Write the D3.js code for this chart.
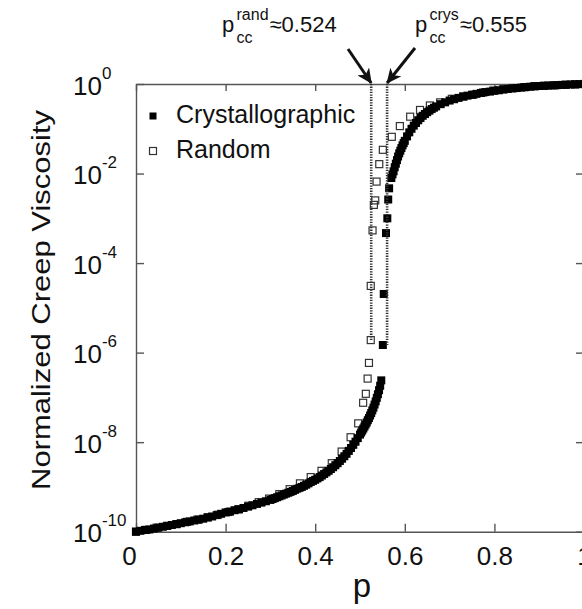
<!DOCTYPE html>
<meta charset="utf-8">
<style>
  body { margin: 0; background: #fff; }
  text { font-family: "Liberation Sans", Arial, Helvetica, sans-serif; fill: #111; }
</style>

<!-- Load d3.js -->
<script src="https://d3js.org/d3.v7.min.js"></script>

<!-- Create a div where the graph will take place -->
<div id="my_dataviz"></div>

<script>

// ---- data (p, log10 of normalized creep viscosity) ----
// Crystallographic: lower branch, isolated points on the jump, upper branch
var crysP = [0,0.01,0.02,0.03,0.04,0.05,0.06,0.07,0.08,0.09,0.10,0.11,0.12,0.13,0.14,0.15,0.16,0.17,0.18,0.19,
  0.20,0.21,0.22,0.23,0.24,0.25,0.26,0.27,0.28,0.29,
  0.300,0.305,0.310,0.315,0.320,0.325,0.330,0.335,0.340,0.345,0.350,0.355,0.360,0.365,0.370,0.375,0.380,0.385,0.390,0.395,
  0.400,0.405,0.410,0.415,0.420,0.425,0.430,0.435,0.440,0.445,0.450,0.455,0.460,0.465,0.470,0.475,0.480,0.485,0.490,0.495,
  0.500,0.5025,0.505,0.5075,0.510,0.5125,0.515,0.5175,0.520,0.5225,0.525,0.5275,0.530,0.5325,0.535,0.5375,0.540,0.5425,0.545,0.5475,
  0.551,0.553,0.558,0.561,0.563,0.565,
  0.570,0.5725,0.575,0.5775,0.580,0.5825,0.585,0.5875,0.590,0.5925,0.595,0.5975,0.600,0.605,0.610,0.615,0.620,0.625,0.630,0.635,
  0.640,0.645,0.650,0.655,0.660,0.665,0.670,0.68,0.69,
  0.70,0.71,0.72,0.73,0.74,0.75,0.76,0.77,0.78,0.79,0.80,0.81,0.82,0.83,0.84,0.85,0.86,0.87,0.88,0.89,
  0.90,0.91,0.92,0.93,0.94,0.95,0.96,0.97,0.98,0.99,1.00];
var crysExp = [-10.0,-9.98,-9.96,-9.95,-9.93,-9.91,-9.89,-9.87,-9.85,-9.83,-9.81,-9.79,-9.77,-9.75,-9.73,-9.71,-9.68,-9.66,-9.63,-9.60,
  -9.57,-9.55,-9.52,-9.50,-9.47,-9.44,-9.41,-9.38,-9.35,-9.32,
  -9.29,-9.27,-9.25,-9.23,-9.21,-9.19,-9.17,-9.15,-9.13,-9.11,-9.09,-9.065,-9.04,-9.02,-9.00,-8.975,-8.95,-8.92,-8.89,-8.865,
  -8.84,-8.81,-8.78,-8.745,-8.71,-8.675,-8.64,-8.60,-8.56,-8.515,-8.47,-8.42,-8.37,-8.315,-8.26,-8.195,-8.13,-8.06,-7.99,-7.91,
  -7.83,-7.785,-7.74,-7.695,-7.65,-7.605,-7.56,-7.51,-7.46,-7.405,-7.35,-7.29,-7.23,-7.16,-7.09,-7.01,-6.93,-6.84,-6.74,-6.62,
  -5.83,-4.69,-3.33,-3.00,-2.58,-2.33,
  -2.10,-2.02,-1.95,-1.86,-1.78,-1.70,-1.62,-1.55,-1.49,-1.43,-1.37,-1.32,-1.27,-1.17,-1.08,-1.00,-0.93,-0.87,-0.81,-0.76,
  -0.71,-0.67,-0.63,-0.595,-0.56,-0.53,-0.50,-0.45,-0.41,
  -0.37,-0.34,-0.31,-0.28,-0.26,-0.24,-0.22,-0.20,-0.18,-0.17,-0.15,-0.14,-0.12,-0.11,-0.10,-0.09,-0.08,-0.07,-0.06,-0.05,
  -0.045,-0.04,-0.035,-0.03,-0.025,-0.02,-0.015,-0.01,-0.007,-0.003,0.0];

// Random
var randP = [0,0.023,0.046,0.069,0.091,0.114,0.137,0.160,0.183,0.206,0.228,0.251,0.274,0.297,0.320,0.343,
  0.366,0.390,0.414,0.437,0.459,0.479,0.496,0.507,0.513,0.517,0.520,
  0.524,0.524,0.528,0.531,0.534,0.537,0.543,
  0.551,0.571,0.589,0.612,0.634,0.656,0.679,0.705,0.731,0.753,0.775,0.797,0.820,0.843,0.866,0.889,0.912,0.935,0.958,0.980,1.0];
var randExp = [-10.0,-9.96,-9.91,-9.87,-9.83,-9.78,-9.73,-9.68,-9.62,-9.56,-9.50,-9.42,-9.34,-9.26,-9.16,-9.05,
  -8.92,-8.78,-8.64,-8.47,-8.21,-7.89,-7.58,-7.12,-6.92,-6.58,-6.23,
  -5.72,-4.51,-3.27,-2.70,-2.60,-2.18,-1.79,
  -1.47,-1.18,-0.94,-0.73,-0.58,-0.48,-0.41,-0.33,-0.28,-0.24,-0.19,-0.15,-0.12,-0.09,-0.07,-0.05,-0.04,-0.03,-0.02,-0.01,0.0];

// thresholds: annotated value, and where the dotted guide is drawn
var thrName  = ["rand", "crys"];
var thrLabel = ["0.524", "0.555"];
var thrLineP = [0.525, 0.5605];

var xTicks = [0, 0.2, 0.4, 0.6, 0.8, 1];
var yTicks = [1e0, 1e-2, 1e-4, 1e-6, 1e-8, 1e-10];
var yTickExp = ["0", "-2", "-4", "-6", "-8", "-10"];

// set the dimensions and margins of the graph
var margin = {top: 84, left: 136},
  width = 448,
  height = 447.7;

var svg = d3.select("#my_dataviz")
  .append("svg")
    .attr("width", 582)
    .attr("height", 609)
  .append("g")
    .attr("transform", "translate(" + margin.left + "," + margin.top + ")");

// scales
var x = d3.scaleLinear().domain([0, 1]).range([0, width]);
var y = d3.scaleLog().domain([1e-10, 1]).range([height, 0]);

var axisColor = "#555";

// bottom axis, ticks pointing inward
var xAxis = svg.append("g")
  .attr("transform", "translate(0," + height + ")")
  .call(d3.axisBottom(x).tickValues(xTicks).tickSize(-8).tickSizeOuter(0).tickPadding(15)
    .tickFormat(function(d){ return d === 0 ? "0" : d === 1 ? "1" : d3.format(".1f")(d); }));
xAxis.selectAll("text")
  .style("font-size", "26px")
  .attr("dx", function(d){ return d === 0 ? "-7px" : null; })
  .attr("fill", "#111");

// top axis
var topAxis = svg.append("g")
  .call(d3.axisTop(x).tickValues(xTicks).tickSize(-7).tickSizeOuter(0).tickFormat(""));

// left axis
var yAxis = svg.append("g")
  .call(d3.axisLeft(y).tickValues(yTicks).tickSize(-8).tickSizeOuter(0).tickFormat(""));

// right axis
var rightAxis = svg.append("g")
  .attr("transform", "translate(" + width + ",0)")
  .call(d3.axisRight(y).tickValues(yTicks).tickSize(-8).tickSizeOuter(0).tickFormat(""));

[xAxis, topAxis, yAxis, rightAxis].forEach(function(a){
  a.selectAll("path, line").attr("stroke", axisColor).attr("stroke-width", 1.4);
});

// y tick labels as 10^n
var yLab = svg.append("g").selectAll("text")
  .data(yTicks)
  .enter()
  .append("text")
    .attr("x", 73 - margin.left)
    .attr("y", function(d){ return y(d) + 10.5; })
    .style("font-size", "26px");
yLab.append("tspan").text("10");
yLab.append("tspan")
  .attr("dy", "-16")
  .style("font-size", "17px")
  .text(function(d, i){ return yTickExp[i]; });

// axis titles
svg.append("text")
  .attr("text-anchor", "middle")
  .attr("x", width / 2 + 2)
  .attr("y", height + 65)
  .style("font-size", "33px")
  .text("p");

svg.append("text")
  .attr("text-anchor", "middle")
  .attr("transform", "translate(" + (50 - margin.left) + "," + (300 - margin.top) + ") rotate(-90)")
  .attr("textLength", 380)
  .attr("lengthAdjust", "spacingAndGlyphs")
  .style("font-size", "26px")
  .text("Normalized Creep Viscosity");

// clip so marks stay in the frame
svg.append("clipPath").attr("id", "clip")
  .append("rect").attr("x", -5).attr("y", -5).attr("width", width + 10).attr("height", height + 10);

var plot = svg.append("g").attr("clip-path", "url(#clip)");

var randData = randP.map(function(p, i){ return {p: p, v: Math.pow(10, randExp[i])}; });
var crysData = crysP.map(function(p, i){ return {p: p, v: Math.pow(10, crysExp[i])}; });

var sq = 7, sqFill = 8;

// Random: open squares
plot.selectAll(".rand")
  .data(randData)
  .enter()
  .append("rect")
    .attr("class", "rand")
    .attr("x", function(d){ return x(d.p) - sq / 2; })
    .attr("y", function(d){ return y(d.v) - sq / 2; })
    .attr("width", sq)
    .attr("height", sq)
    .attr("fill", "none")
    .attr("stroke", "#333")
    .attr("stroke-width", 1.2);

// Crystallographic: filled squares
plot.selectAll(".crys")
  .data(crysData)
  .enter()
  .append("rect")
    .attr("class", "crys")
    .attr("x", function(d){ return x(d.p) - sqFill / 2; })
    .attr("y", function(d){ return y(d.v) - sqFill / 2; })
    .attr("width", sqFill)
    .attr("height", sqFill)
    .attr("fill", "#000");

// dotted guides through the jump, down to the lowest isolated point
var guideBottom = [Math.pow(10, -5.72), Math.pow(10, -5.83)];
svg.selectAll(".guide")
  .data(thrLineP)
  .enter()
  .append("line")
    .attr("x1", function(d){ return x(d); })
    .attr("x2", function(d){ return x(d); })
    .attr("y1", 0)
    .attr("y2", function(d, i){ return y(guideBottom[i]); })
    .attr("stroke", "#333")
    .attr("stroke-width", 2.6)
    .attr("stroke-dasharray", "1.3,1.3");

// arrows
svg.append("defs").append("marker")
  .attr("id", "head")
  .attr("markerUnits", "userSpaceOnUse")
  .attr("viewBox", "0 -7 15 14")
  .attr("refX", 14)
  .attr("refY", 0)
  .attr("markerWidth", 15)
  .attr("markerHeight", 14)
  .attr("orient", "auto")
  .append("path")
    .attr("d", "M0,-7L15,0L0,7L4,0Z")
    .attr("fill", "#111");

var arrowStart = [[348 - margin.left, 49 - margin.top], [415 - margin.left, 48 - margin.top]];
svg.selectAll(".arrow")
  .data(thrLineP)
  .enter()
  .append("line")
    .attr("x1", function(d, i){ return arrowStart[i][0]; })
    .attr("y1", function(d, i){ return arrowStart[i][1]; })
    .attr("x2", function(d){ return x(d); })
    .attr("y2", -1)
    .attr("stroke", "#111")
    .attr("stroke-width", 3)
    .attr("marker-end", "url(#head)");

// threshold labels  p_cc^name ≈ value
var labX = [222 - margin.left, 415 - margin.left];
thrName.forEach(function(n, i){
  var g = svg.append("g").attr("transform", "translate(" + labX[i] + "," + (32 - margin.top) + ")");
  g.append("text").attr("x", 0).attr("y", 0).style("font-size", "22px").text("p");
  g.append("text").attr("x", 14.5).attr("y", 11).style("font-size", "16px").text("cc");
  var sup = g.append("text").attr("x", 14.5).attr("y", -12).style("font-size", "16px").text(n);
  var w = Math.max(sup.node().getComputedTextLength(), 16);
  g.append("text").attr("x", 14.5 + w + 1).attr("y", 0).style("font-size", "22px").text("\u2248" + thrLabel[i]);
});

// legend
var legNames = ["Crystallographic", "Random"];
var legY = [116 - margin.top, 151 - margin.top];
legNames.forEach(function(n, i){
  svg.append("rect")
    .attr("x", 153 - margin.left - 3.5)
    .attr("y", legY[i] - 3.5)
    .attr("width", 7)
    .attr("height", 7)
    .attr("fill", i === 0 ? "#000" : "none")
    .attr("stroke", i === 0 ? "none" : "#333")
    .attr("stroke-width", 1.2);
  svg.append("text")
    .attr("x", 176 - margin.left)
    .attr("y", legY[i] + 7)
    .style("font-size", "25px")
    .text(n);
});

</script>
